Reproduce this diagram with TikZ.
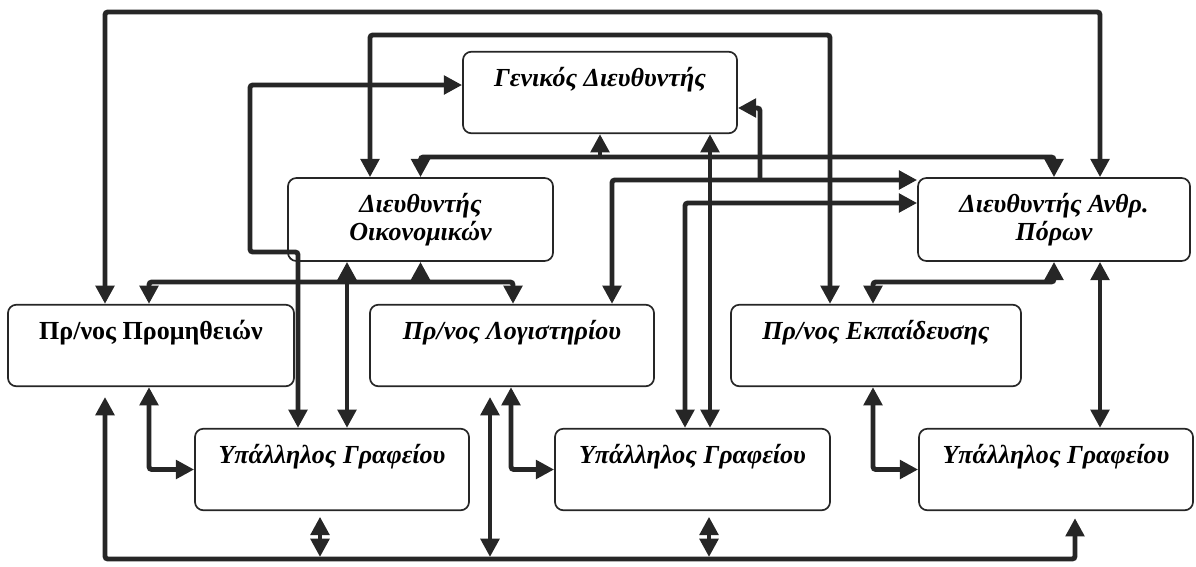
\documentclass[tikz,border=0pt]{standalone}
\usepackage{fontspec}
\setmainfont{Liberation Serif}
\usetikzlibrary{arrows.meta}
\begin{document}
\begin{tikzpicture}[x=0.025cm,y=-0.025cm]
    \tikzstyle{unit}=[rectangle,rounded corners=6pt,draw=black!85,line width=1.2pt,fill=white,inner sep=0pt,font=\fontsize{18.5}{19.5}\selectfont\bfseries\itshape]
    \tikzstyle{one}=[unit,text height=25pt,text depth=33pt]
    \tikzstyle{two}=[unit,align=center,minimum height=2.075cm]
    \tikzstyle{link}=[draw=black!85,line width=3.5pt,rounded corners=2pt,>={Triangle[length=13pt,width=13pt]}]
    \useasboundingbox (0,0) rectangle (1196,566);
    \begin{scope}
        \node [one,minimum width=6.85cm] (gd) at (600,92.5) {Γενικός Διευθυντής};
        \node [two,minimum width=6.625cm] (do) at (420.5,219.5) {Διευθυντής\\Οικονομικών};
        \node [two,minimum width=6.8cm] (da) at (1054,219.5) {Διευθυντής Ανθρ.\\Πόρων};
        \node [one,minimum width=7.15cm,font=\fontsize{18.5}{19.5}\selectfont\bfseries] (pp) at (151,345.5) {Πρ/νος Προμηθειών};
        \node [one,minimum width=7.1cm] (pl) at (512,345.5) {Πρ/νος Λογιστηρίου};
        \node [one,minimum width=7.25cm] (pe) at (876,345.5) {Πρ/νος Εκπαίδευσης};
        \node [one,minimum width=6.85cm] (y1) at (332,469.5) {Υπάλληλος Γραφείου};
        \node [one,minimum width=6.875cm] (y2) at (692.5,469.5) {Υπάλληλος Γραφείου};
        \node [one,minimum width=6.85cm] (y3) at (1056,469.5) {Υπάλληλος Γραφείου};
        \coordinate (fork) at (760,180);
        % top loops
        \path[link,<->] (pp.north -| 105,0) -- (105,12) -| (da.north -| 1100,0);
        \path[link,<->] (do.north -| 370,0) -- (370,35) -| (pe.north -| 830,0);
        \path[link,<->] (y1.north -| 298,0) -- (298,252) -- (250,252) -- (250,85) -- (gd.west |- 0,85);
        \path[link,<->] (do.south -| 347,0) -- (y1.north -| 347,0);
        % directors
        \path[link,<->] (do.north) -- (do.north |- 0,157) -| (da.north);
        \path[link,->] (gd.south |- 0,157) -- (gd.south);
        \path[link,<->] (pp.north -| 149,0) -- (149,282) -| (pl.north -| 513,0);
        \path[link,->] (do.south |- 0,282) -- (do.south);
        \path[link,<->] (da.south) -- (da.south |- 0,282) -| (pe.north -| 873,0);
        \path[link,<->] (da.south -| 1100,0) -- (y3.north -| 1100,0);
        \path[link,<->] (pl.north -| 612,0) |- (da.west |- 0,180);
        \path[link,->] (fork) -- (760,108) -- (gd.east |- 0,108);
        \path[link,<->] (y2.north -| 685,0) |- (da.west |- 0,203);
        \path[link,<->] (y2.north -| 710,0) -- (gd.south -| 710,0);
        % office staff
        \path[link,<->] (pp.south -| 149,0) |- (y1.west);
        \path[link,<->] (pl.south -| 511,0) |- (y2.west);
        \path[link,<->] (pe.south -| 873,0) |- (y3.west);
        % bottom bus
        \path[link,<->,shorten <=7pt,shorten >=5pt] (pp.south -| 105,0) -- (105,559) -| (y3.south -| 1075,0);
        \path[link,<->,shorten <=4pt] (y1.south -| 320,0) -- (320,557);
        \path[link,<->,shorten <=7pt] (pl.south -| 490,0) -- (490,557);
        \path[link,<->,shorten <=4pt] (y2.south -| 709,0) -- (709,557);
    \end{scope}
\end{tikzpicture}
\end{document}
